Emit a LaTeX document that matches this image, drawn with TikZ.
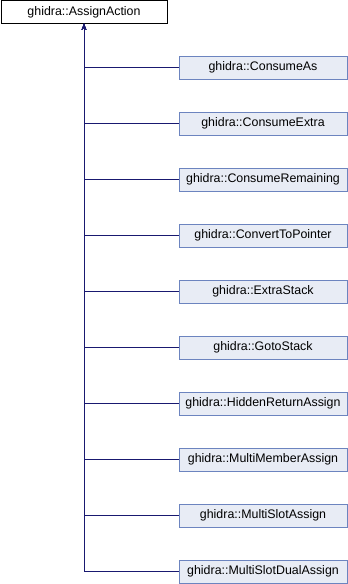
\documentclass[tikz,border=0pt]{standalone}
\usepackage{fontspec}
\setmainfont{Liberation Sans}
\usetikzlibrary{arrows.meta, positioning}

\definecolor{edgeblue}{RGB}{25,25,112}
\definecolor{boxfill}{RGB}{232,236,245}
\definecolor{boxline}{RGB}{108,132,191}

\begin{document}
\begin{tikzpicture}[
    x=1pt, y=1pt,
    >={Stealth[length=6pt, width=4.5pt]},
    base/.style={draw=black, fill=white, minimum width=166pt,
                 minimum height=23pt, inner sep=0pt,
                 font=\fontsize{12.4}{14}\selectfont},
    derived/.style={draw=boxline, fill=boxfill, minimum width=168pt,
                    minimum height=22.5pt, inner sep=0pt,
                    font=\fontsize{12.4}{14}\selectfont},
    edge/.style={->, edgeblue, line width=0.9pt}
  ]
  \useasboundingbox (0,0) rectangle (348,-584);

  \node[base] (assign) at (84,-12) {ghidra::AssignAction};

  \node[derived] (consumeas) at (263,-67.5) {ghidra::ConsumeAs};
  \node[derived, below=33.1pt of consumeas] (consumeextra) {ghidra::ConsumeExtra};
  \node[derived, below=33.1pt of consumeextra] (consumeremaining)
    {ghidra::ConsumeRemaining};
  \node[derived, below=33.1pt of consumeremaining] (converttopointer)
    {ghidra::ConvertToPointer};
  \node[derived, below=33.1pt of converttopointer] (extrastack) {ghidra::ExtraStack};
  \node[derived, below=33.1pt of extrastack] (gotostack) {ghidra::GotoStack};
  \node[derived, below=33.1pt of gotostack] (hiddenreturn)
    {ghidra::HiddenReturnAssign};
  \node[derived, below=33.1pt of hiddenreturn] (multimember)
    {ghidra::MultiMemberAssign};
  \node[derived, below=33.1pt of multimember] (multislot) {ghidra::MultiSlotAssign};
  \node[derived, below=33.1pt of multislot] (multislotdual)
    {ghidra::MultiSlotDualAssign};

  % Inheritance edges
  \draw[edge] (multislotdual.west) -| (assign.south);
  \draw[edge] (multislot.west) -| (assign.south);
  \draw[edge] (multimember.west) -| (assign.south);
  \draw[edge] (hiddenreturn.west) -| (assign.south);
  \draw[edge] (gotostack.west) -| (assign.south);
  \draw[edge] (extrastack.west) -| (assign.south);
  \draw[edge] (converttopointer.west) -| (assign.south);
  \draw[edge] (consumeremaining.west) -| (assign.south);
  \draw[edge] (consumeextra.west) -| (assign.south);
  \draw[edge] (consumeas.west) -| (assign.south);
\end{tikzpicture}
\end{document}
